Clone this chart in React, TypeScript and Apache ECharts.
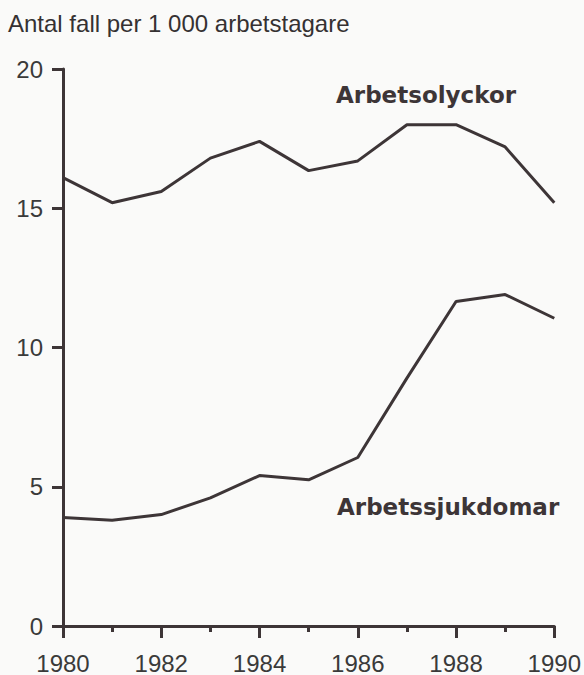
import React, { useEffect, useRef } from "react";
import * as echarts from "echarts";

const years = [1980, 1981, 1982, 1983, 1984, 1985, 1986, 1987, 1988, 1989, 1990];
const arbetsolyckor = [16.1, 15.2, 15.6, 16.8, 17.4, 16.35, 16.7, 18.0, 18.0, 17.2, 15.2];
const arbetssjukdomar = [3.9, 3.8, 4.0, 4.6, 5.4, 5.25, 6.05, 8.9, 11.65, 11.9, 11.05];
const yTicks = { min: 0, max: 20, interval: 5 };
const xTicks = { min: 1980, max: 1990, interval: 2 };
const titleText = "Antal fall per 1 000 arbetstagare";
const seriesNames = ["Arbetsolyckor", "Arbetssjukdomar"];

const INK = "#3d3537";

export default function App() {
  const ref = useRef<HTMLDivElement>(null);
  useEffect(() => {
    if (!ref.current) return;
    const chart = echarts.init(ref.current, null, { renderer: "svg" });
    const toPairs = (vals: number[]) => years.map((y, i) => [y, vals[i]]);
    chart.setOption({
      animation: false,
      backgroundColor: "#fafaf9",
      grid: { left: 63, right: 28, top: 69, bottom: 46, containLabel: false },
      xAxis: {
        type: "value",
        min: xTicks.min,
        max: xTicks.max,
        interval: xTicks.interval,
        axisLine: { show: true, lineStyle: { color: INK, width: 3 } },
        axisTick: { show: true, length: 12, lineStyle: { color: INK, width: 3 } },
        minorTick: { show: true, splitNumber: 2, length: 6, lineStyle: { color: INK, width: 3 } },
        splitLine: { show: false },
        axisLabel: {
          color: "#3a3a3a",
          fontFamily: "Liberation Sans, Arial, sans-serif",
          fontSize: 24,
          margin: 25,
          formatter: (v: number) => String(v),
        },
      },
      yAxis: {
        type: "value",
        min: yTicks.min,
        max: yTicks.max,
        interval: yTicks.interval,
        axisLine: { show: true, lineStyle: { color: INK, width: 3 } },
        axisTick: { show: true, length: 11, lineStyle: { color: INK, width: 3 } },
        splitLine: { show: false },
        axisLabel: {
          color: "#3a3a3a",
          fontFamily: "Liberation Sans, Arial, sans-serif",
          fontSize: 24,
          margin: 20,
        },
      },
      graphic: [
        {
          type: "text",
          left: 8,
          top: 11,
          style: {
            text: titleText,
            fill: "#353132",
            font: "24px 'Liberation Sans', Arial, sans-serif",
          },
        },
        {
          type: "text",
          x: 336,
          y: 95,
          style: {
            text: seriesNames[0],
            fill: INK,
            font: "bold 23px 'DejaVu Sans', sans-serif",
            textAlign: "left",
            textVerticalAlign: "middle",
          },
        },
        {
          type: "text",
          x: 337,
          y: 507,
          style: {
            text: seriesNames[1],
            fill: INK,
            font: "bold 23px 'DejaVu Sans', sans-serif",
            textAlign: "left",
            textVerticalAlign: "middle",
          },
        },
      ],
      series: [
        {
          name: seriesNames[0],
          type: "line",
          data: toPairs(arbetsolyckor),
          symbol: "none",
          lineStyle: { color: INK, width: 3 },
          clip: false,
        },
        {
          name: seriesNames[1],
          type: "line",
          data: toPairs(arbetssjukdomar),
          symbol: "none",
          lineStyle: { color: INK, width: 3 },
          clip: false,
        },
      ],
    });
    return () => chart.dispose();
  }, []);
  return (
    <div
      ref={ref}
      style={{ position: "fixed", left: 0, top: 0, width: 584, height: 675 }}
    />
  );
}
